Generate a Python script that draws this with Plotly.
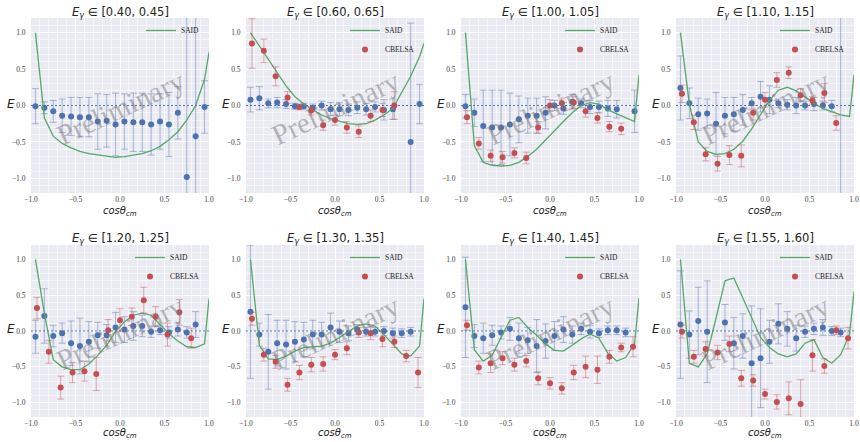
import plotly.graph_objects as go

# ---------------- data ----------------
x_bins = [-0.95, -0.85, -0.75, -0.65, -0.55, -0.45, -0.35, -0.25, -0.15, -0.05,
          0.05, 0.15, 0.25, 0.35, 0.45, 0.55, 0.65, 0.75, 0.85, 0.95]
x_cbelsa = [-0.933, -0.8, -0.667, -0.533, -0.4, -0.267, -0.133, 0.0,
            0.133, 0.267, 0.4, 0.533, 0.667, 0.8, 0.933]
x_said = [-0.95, -0.85, -0.75, -0.65, -0.55, -0.45, -0.35, -0.25, -0.15, -0.05,
          0.05, 0.15, 0.25, 0.35, 0.45, 0.55, 0.65, 0.75, 0.85, 0.95, 1.0]

energy_bins = ["[0.40, 0.45]", "[0.60, 0.65]", "[1.00, 1.05]", "[1.10, 1.15]",
               "[1.20, 1.25]", "[1.30, 1.35]", "[1.40, 1.45]", "[1.55, 1.60]"]

x_ticks = [-1.0, -0.5, 0.0, 0.5, 1.0]
y_ticks = [-1.0, -0.5, 0.0, 0.5, 1.0]

# E in [0.40, 0.45]
said_1 = [1.0, -0.17, -0.42, -0.52, -0.58, -0.63, -0.66, -0.68, -0.70, -0.71, -0.70,
          -0.68, -0.66, -0.62, -0.56, -0.47, -0.36, -0.20, 0.0, 0.36, 0.73]
e_1 = [-0.01, -0.03, -0.08, -0.14, -0.15, -0.16, -0.16, -0.22, -0.21, -0.26,
       -0.22, -0.23, -0.23, -0.26, -0.22, -0.26, -0.10, -0.98, -0.42, -0.02]
e_err_1 = [0.24, 0.08, 0.15, 0.23, 0.26, 0.27, 0.27, 0.38, 0.36, 0.43,
           0.38, 0.40, 0.40, 0.42, 0.38, 0.44, 0.36, 3.0, 3.0, 0.36]
cb_1 = [None] * 15
cb_err_1 = [None] * 15

# E in [0.60, 0.65]
said_2 = [1.0, 0.82, 0.63, 0.45, 0.27, 0.12, 0.02, -0.06, -0.13, -0.18, -0.22,
          -0.25, -0.26, -0.25, -0.20, -0.13, -0.04, 0.17, 0.40, 0.67, 0.85]
e_2 = [0.08, 0.10, 0.03, 0.04, 0.02, -0.01, -0.01, -0.03, 0.00, -0.05,
       -0.05, -0.06, -0.03, -0.05, -0.02, -0.06, -0.05, None, -0.50, 0.02]
e_err_2 = [0.17, 0.16, 0.06, 0.07, 0.06, 0.04, 0.04, 0.05, 0.06, 0.09,
           0.09, 0.08, 0.08, 0.08, 0.07, 0.14, 0.14, None, 1.63, 0.27]
cb_2 = [0.85, 0.75, 0.40, 0.11, -0.02, -0.07, -0.27, -0.20, -0.30, -0.36,
        -0.14, -0.06, 0.00, None, None]
cb_err_2 = [0.34, 0.16, 0.13, 0.08, 0.04, 0.06, 0.07, 0.07, 0.08, 0.08,
            0.08, 0.09, 0.19, None, None]

# E in [1.00, 1.05]
said_3 = [1.0, -0.55, -0.78, -0.82, -0.83, -0.82, -0.78, -0.70, -0.60, -0.47, -0.35,
          -0.22, -0.10, 0.0, 0.04, 0.02, -0.06, -0.11, -0.16, -0.22, 0.42]
e_3 = [-0.01, -0.10, -0.28, -0.30, -0.30, -0.26, -0.19, -0.14, -0.14, -0.10,
       0.00, -0.04, 0.05, 0.03, -0.02, -0.02, -0.04, -0.05, None, -0.08]
e_err_3 = [0.16, 0.19, 0.49, 0.51, 0.51, 0.43, 0.32, 0.24, 0.24, 0.22,
           0.07, 0.08, 0.10, 0.06, 0.09, 0.08, 0.11, 0.12, None, 0.29]
cb_3 = [-0.16, -0.52, -0.69, -0.71, -0.65, -0.72, -0.30, 0.00, 0.03, 0.04,
        -0.08, -0.17, -0.29, -0.32, None]
cb_err_3 = [0.09, 0.08, 0.08, 0.08, 0.07, 0.08, 0.08, 0.08, 0.07, 0.08,
            0.08, 0.07, 0.07, 0.08, None]

# E in [1.10, 1.15]
said_4 = [1.0, 0.02, -0.50, -0.63, -0.67, -0.66, -0.60, -0.49, -0.32, -0.12, 0.07,
          0.21, 0.25, 0.20, 0.11, 0.03, -0.04, -0.09, -0.13, -0.15, 0.42]
e_4 = [0.24, 0.03, -0.12, -0.11, -0.25, -0.14, -0.12, -0.06, 0.03, 0.12,
       0.08, 0.03, 0.01, 0.00, 0.00, 0.02, 0.00, -0.01, 1.6, None]
e_err_4 = [0.44, 0.21, 0.22, 0.20, 0.43, 0.25, 0.23, 0.21, 0.08, 0.21,
           0.19, 0.06, 0.07, 0.11, 0.06, 0.09, 0.06, 0.08, 3.0, None]
cb_4 = [0.16, -0.23, -0.67, -0.80, -0.68, -0.69, -0.10, 0.08, 0.35, 0.45,
        0.14, 0.07, 0.17, -0.24, None]
cb_err_4 = [0.12, 0.10, 0.09, 0.10, 0.13, 0.15, 0.10, 0.10, 0.10, 0.08,
            0.09, 0.05, 0.13, 0.10, None]

# E in [1.20, 1.25]
said_5 = [1.0, 0.25, -0.40, -0.50, -0.54, -0.54, -0.46, -0.34, -0.20, -0.01, 0.13,
          0.22, 0.25, 0.22, 0.09, -0.04, -0.14, -0.22, -0.23, -0.18, 0.45]
e_5 = [-0.08, 0.21, -0.07, -0.03, -0.17, -0.21, -0.15, -0.06, -0.06, 0.05,
       0.02, 0.07, 0.07, -0.01, 0.01, -0.02, 0.02, -0.02, 0.09, None]
e_err_5 = [0.23, 0.38, 0.15, 0.14, 0.31, 0.39, 0.28, 0.18, 0.15, 0.21,
           0.18, 0.20, 0.15, 0.08, 0.06, 0.08, 0.09, 0.08, 0.18, None]
cb_5 = [0.32, -0.29, -0.79, -0.58, -0.56, -0.60, 0.01, 0.15, 0.20, 0.43,
        0.20, -0.05, 0.26, -0.10, None]
cb_err_5 = [0.15, 0.16, 0.16, 0.14, 0.14, 0.23, 0.15, 0.16, 0.12, 0.18,
            0.14, 0.16, 0.18, 0.14, None]

# E in [1.30, 1.35]
said_6 = [1.0, -0.20, -0.39, -0.40, -0.35, -0.28, -0.23, -0.22, -0.21, -0.17, -0.09,
          -0.01, 0.07, 0.10, 0.07, -0.05, -0.18, -0.32, -0.35, -0.21, 0.45]
e_6 = [0.27, -0.05, -0.29, -0.17, -0.19, -0.15, -0.12, -0.05, -0.05, 0.05,
       -0.01, -0.03, 0.02, -0.01, -0.01, 0.00, -0.03, -0.03, -0.01, None]
e_err_6 = [0.93, 0.16, 0.52, 0.32, 0.34, 0.28, 0.24, 0.20, 0.17, 0.20,
           0.15, 0.10, 0.07, 0.06, 0.06, 0.06, 0.07, 0.06, 0.06, None]
cb_6 = [0.17, -0.33, -0.43, -0.75, -0.58, -0.47, -0.46, -0.33, -0.24, -0.02,
        -0.03, -0.11, -0.15, -0.35, -0.58]
cb_err_6 = [0.09, 0.09, 0.09, 0.09, 0.10, 0.10, 0.10, 0.07, 0.09, 0.07,
            0.09, 0.11, 0.08, 0.08, 0.21]

# E in [1.40, 1.45]
said_7 = [1.0, -0.26, -0.42, -0.34, -0.09, 0.15, 0.19, 0.05, -0.06, -0.18, -0.27,
          -0.28, -0.20, -0.11, -0.04, -0.10, -0.31, -0.42, -0.37, -0.18, 0.46]
e_7 = [0.33, -0.07, -0.10, -0.06, -0.02, 0.03, -0.10, -0.13, -0.21, -0.14,
       -0.07, 0.02, -0.05, 0.03, -0.01, -0.03, 0.01, 0.01, -0.02, None]
e_err_7 = [0.70, 0.16, 0.21, 0.14, 0.09, 0.16, 0.21, 0.18, 0.37, 0.24,
           0.20, 0.18, 0.12, 0.08, 0.09, 0.06, 0.06, 0.06, 0.06, None]
cb_7 = [0.08, -0.51, -0.45, -0.38, -0.47, -0.42, -0.66, -0.73, -0.80, -0.58,
        -0.50, -0.54, -0.36, -0.23, -0.22]
cb_err_7 = [0.07, 0.09, 0.13, 0.09, 0.09, 0.08, 0.09, 0.08, 0.08, 0.10,
            0.15, 0.19, 0.09, 0.06, 0.14]

# E in [1.55, 1.60]
said_8 = [1.0, -0.45, -0.50, -0.32, 0.18, 0.70, 0.74, 0.46, 0.17, -0.09, -0.23,
          -0.32, -0.36, -0.32, -0.17, -0.12, -0.37, -0.45, -0.33, -0.05, 0.55]
e_8 = [0.09, -0.05, 0.14, -0.01, None, 0.12, -0.17, -0.07, -0.45, -0.38,
       -0.15, 0.10, 0.03, -0.10, -0.01, 0.03, 0.05, 0.00, -0.02, None]
e_err_8 = [0.75, 0.33, 0.47, 0.71, None, 0.25, 0.36, 0.31, 0.80, 0.69,
           0.30, 0.28, 0.24, 0.18, 0.08, 0.08, 0.11, 0.06, 0.06, None]
cb_8 = [-0.01, -0.36, -0.25, -0.30, -0.18, -0.66, -0.69, -0.88, -0.99, -0.94,
        -1.02, -0.34, -0.49, 0.01, -0.10]
cb_err_8 = [0.09, 0.09, 0.10, 0.10, 0.11, 0.11, 0.08, 0.07, 0.10, 0.23,
            0.34, 0.22, 0.10, 0.06, 0.15]

panels = [
    (said_1, e_1, e_err_1, cb_1, cb_err_1),
    (said_2, e_2, e_err_2, cb_2, cb_err_2),
    (said_3, e_3, e_err_3, cb_3, cb_err_3),
    (said_4, e_4, e_err_4, cb_4, cb_err_4),
    (said_5, e_5, e_err_5, cb_5, cb_err_5),
    (said_6, e_6, e_err_6, cb_6, cb_err_6),
    (said_7, e_7, e_err_7, cb_7, cb_err_7),
    (said_8, e_8, e_err_8, cb_8, cb_err_8),
]

# ---------------- style ----------------
W, H = 860, 442
BLUE = "#4C72B0"
RED = "#C44E52"
GREEN = "#55A868"
BG = "#EAEAF2"
SERIF = "Liberation Serif"
SANS = "DejaVu Sans"

col_left_px = [31, 246, 461, 676]
plot_w_px = 178
row_px = [(18, 193), (245, 417)]  # top, bottom in pixels


def keep(xs, ys, es):
    out = [(x, y, e) for x, y, e in zip(xs, ys, es) if y is not None]
    return [o[0] for o in out], [o[1] for o in out], [o[2] for o in out]


fig = go.Figure()
annotations = []
shapes = []
layout_updates = {}

for i, (said, ev, eerr, cb, cberr) in enumerate(panels):
    n = i + 1
    r, c = divmod(i, 4)
    sfx = "" if n == 1 else str(n)
    xa, ya = "x" + sfx, "y" + sfx
    leg = "legend" + sfx

    x0 = col_left_px[c] / W
    x1 = (col_left_px[c] + plot_w_px) / W
    top, bot = row_px[r]
    y1 = 1 - top / H
    y0 = 1 - bot / H

    # measured points (blue)
    bx, by, be = keep(x_bins, ev, eerr)
    fig.add_trace(go.Scatter(
        x=bx, y=by, mode="markers", xaxis=xa, yaxis=ya, showlegend=False,
        marker=dict(color=BLUE, size=6),
        error_y=dict(type="data", array=be, visible=True, color="rgba(76,114,176,0.45)",
                     thickness=1, width=3.5),
        hoverinfo="skip"))

    # SAID curve
    fig.add_trace(go.Scatter(
        x=x_said, y=said, mode="lines", name="SAID", xaxis=xa, yaxis=ya,
        line=dict(color=GREEN, width=1.3), legend=leg, showlegend=True))

    # CBELSA
    cx, cy, ce = keep(x_cbelsa, cb, cberr)
    if cx:
        fig.add_trace(go.Scatter(
            x=cx, y=cy, mode="markers", name="CBELSA", xaxis=xa, yaxis=ya,
            marker=dict(color=RED, size=6), legend=leg, showlegend=True,
            error_y=dict(type="data", array=ce, visible=True,
                         color="rgba(196,78,82,0.45)", thickness=1, width=3.5)))

    tickfont = dict(family=SERIF, size=7.5, color="#3c3c3c")
    minor = dict(tick0=0, dtick=0.1, showgrid=True,
                 gridcolor="rgba(255,255,255,0.55)", gridwidth=0.5)
    layout_updates["xaxis" + sfx] = dict(
        domain=[x0, x1], anchor=ya, range=[-1.0, 1.0], tickvals=x_ticks,
        tickformat=".1f", showgrid=True, gridcolor="white", gridwidth=1,
        zeroline=False, showline=False, ticks="",
        tickfont=tickfont, minor=minor, fixedrange=True)
    layout_updates["yaxis" + sfx] = dict(
        domain=[y0, y1], anchor=xa, range=[-1.2, 1.2], tickvals=y_ticks,
        tickformat=".1f", showgrid=True, gridcolor="white", gridwidth=1,
        zeroline=False, showline=False, ticks="outside", ticklen=3,
        tickcolor="rgba(0,0,0,0)", tickfont=tickfont, minor=minor, fixedrange=True)

    layout_updates[leg] = dict(
        x=x1 - 4 / W, xanchor="right", y=y1 + 2 / H, yanchor="top",
        bgcolor="rgba(0,0,0,0)", borderwidth=0, itemwidth=30, tracegroupgap=0,
        font=dict(family=SERIF, size=7.5, color="#222"))

    # zero reference line
    shapes.append(dict(type="line", xref=xa + " domain", yref=ya,
                       x0=0, x1=1, y0=0, y1=0,
                       line=dict(color=BLUE, width=1, dash="2px,2px"), layer="above"))

    # title
    title_y = 1 - (12 if r == 0 else 238.5) / H
    annotations.append(dict(
        text=f"<i>E</i><sub><i>γ</i></sub> ∈ {energy_bins[i]}", xref="paper", yref="paper",
        x=(x0 + x1) / 2, y=title_y, xanchor="center", yanchor="middle",
        showarrow=False, font=dict(family=SANS, size=11.5, color="#222")))
    # x label
    if r == 0:
        xl = dict(y=1 - 203 / H, yanchor="top")
    else:
        xl = dict(y=0.0, yanchor="bottom")
    annotations.append(dict(
        text="<i>cosθ</i><sub><i>cm</i></sub>", xref="paper", yref="paper",
        x=(x0 + x1) / 2, xanchor="center", showarrow=False,
        font=dict(family=SANS, size=10, color="#222"), **xl))
    # y label
    annotations.append(dict(
        text="<i>E</i>", xref="paper", yref="paper",
        x=x0 - 20 / W, y=(y0 + y1) / 2 + 2 / H, xanchor="center", yanchor="middle",
        showarrow=False, font=dict(family=SANS, size=12, color="#222")))
    # watermark
    annotations.append(dict(
        text="Preliminary", xref=xa, yref=ya, x=0.0, y=-0.03,
        xanchor="center", yanchor="middle", textangle=-25, showarrow=False,
        font=dict(family=SERIF, size=29, color="rgba(120,120,120,0.5)")))

fig.update_layout(
    width=W, height=H, margin=dict(l=0, r=0, t=0, b=0),
    paper_bgcolor="white", plot_bgcolor=BG, template="none",
    annotations=annotations, shapes=shapes, **layout_updates)

fig.write_html("out.html")
